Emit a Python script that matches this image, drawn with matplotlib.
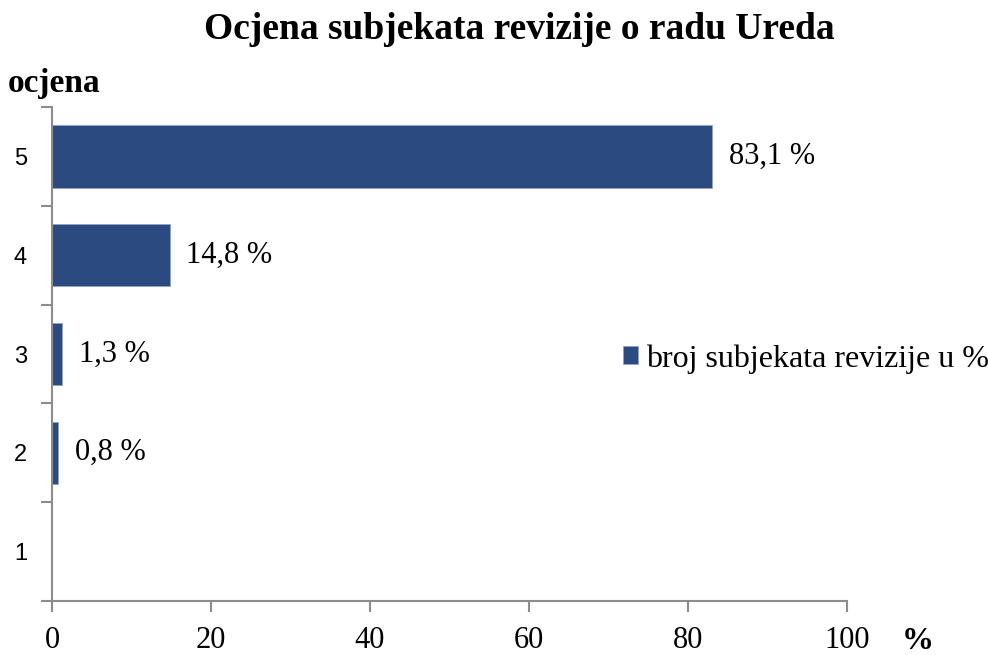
import matplotlib.pyplot as plt
import numpy as np

# podaci
ocjene = ['1', '2', '3', '4', '5']
postoci = [0.0, 0.8, 1.3, 14.8, 83.1]
oznake = ['', '0,8 %', '1,3 %', '14,8 %', '83,1 %']
x_ticks = [0, 20, 40, 60, 80, 100]

boja = '#2a4a80'
siva = '#8c8c8c'
serif = ['Liberation Serif', 'DejaVu Serif']

fig = plt.figure(figsize=(9.88, 6.55), dpi=100)
ax = fig.add_axes([0.0526, 0.0824, 0.8044, 0.7542])

poz = np.arange(len(ocjene))
bars = ax.barh(poz, postoci, height=0.63, color=boja, edgecolor='#8fa4c4', linewidth=0.6,
               label='broj subjekata revizije u %')

for b, txt in zip(bars, oznake):
    if txt:
        ax.annotate(txt, (b.get_width(), b.get_y() + b.get_height() / 2),
                    xytext=(12, 0), textcoords='offset points', va='center', ha='left',
                    fontsize=22, family=serif)

ax.set_xlim(0, 100)
ax.set_ylim(-0.5, len(ocjene) - 0.5)
ax.set_xticks(x_ticks)
ax.set_xticklabels([str(v) for v in x_ticks], fontsize=22, family=serif)

# granice kategorija kao glavne crtice, oznake kao sporedne
ax.set_yticks(np.arange(-0.5, len(ocjene), 1.0))
ax.set_yticklabels([])
ax.set_yticks(poz, minor=True)
ax.set_yticklabels(ocjene, minor=True, fontsize=17, family=['Liberation Sans', 'DejaVu Sans'])
ax.tick_params(axis='y', which='minor', length=0, pad=18)
ax.tick_params(axis='y', which='major', length=8, color=siva, width=1.5)
ax.tick_params(axis='x', length=8, color=siva, width=1.5, pad=10)

for s in ['top', 'right']:
    ax.spines[s].set_visible(False)
for s in ['left', 'bottom']:
    ax.spines[s].set_color(siva)
    ax.spines[s].set_linewidth(1.5)

fig.text(0.526, 0.955, 'Ocjena subjekata revizije o radu Ureda', ha='center', va='center',
         fontsize=27, fontweight='bold', family=serif)
fig.text(0.008, 0.873, 'ocjena', ha='left', va='center', fontsize=24, fontweight='bold', family=serif)
fig.text(0.913, 0.020, '%', ha='left', va='center', fontsize=23, fontweight='bold', family=serif)

ax.legend(loc='center left', bbox_to_anchor=(0.718, 0.49), frameon=False,
          prop={'family': serif, 'size': 23}, handlelength=0.48, handleheight=0.48,
          handletextpad=0.25, borderaxespad=0, borderpad=0)

fig.savefig('out.png', dpi=100)
